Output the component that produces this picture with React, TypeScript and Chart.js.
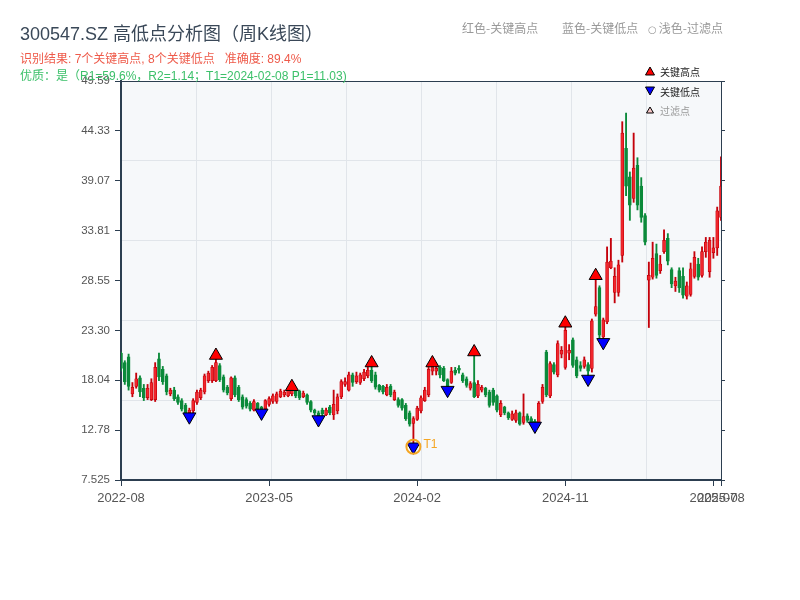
import React, { useEffect, useRef } from "react";
import { Chart, registerables } from "chart.js";

Chart.register(...registerables);

// ---------- data (weekly candles, index 0..158) ----------
const opens = [
  20.9, 19.9, 20.5, 16.6, 17.4, 18.3, 17.2, 16.2, 16.0, 16.0,
  20.3, 19.2, 18.5, 16.6, 17.0, 16.3, 15.9, 15.4, 14.6, 14.8,
  15.7, 16.2, 16.8, 18.0, 18.0, 18.0, 19.6, 18.4, 17.3, 16.1,
  18.3, 17.3, 16.3, 16.0, 15.6, 14.9, 15.6, 15.2, 15.0, 15.5,
  15.8, 15.8, 16.3, 16.5, 16.4, 16.6, 17.0, 16.9, 16.3, 16.5,
  15.8, 14.9, 14.6, 14.9, 14.4, 15.2, 14.4, 14.8, 16.3, 17.6,
  17.0, 18.6, 17.9, 17.8, 18.2, 18.5, 19.1, 18.6, 17.5, 17.4,
  16.5, 17.4, 16.0, 16.0, 16.0, 15.4, 14.6, 13.5, 13.9, 14.8,
  15.9, 16.5, 19.0, 19.0, 19.4, 19.3, 18.1, 17.8, 19.1, 19.3,
  18.6, 18.2, 17.2, 17.8, 16.4, 17.0, 17.2, 16.8, 17.0, 16.4,
  14.4, 15.2, 14.6, 13.9, 13.8, 14.6, 13.6, 14.3, 14.0, 13.7,
  13.6, 15.8, 21.0, 16.4, 19.7, 18.6, 20.8, 19.4, 20.9, 22.3,
  20.2, 19.6, 19.5, 19.7, 19.3, 25.0, 27.8, 22.6, 24.2, 29.9,
  27.3, 27.3, 31.2, 42.5, 39.5, 37.2, 40.7, 38.5, 35.4, 28.6,
  28.9, 31.4, 29.6, 31.6, 33.0, 29.7, 28.0, 29.6, 29.0, 26.9,
  27.1, 29.0, 30.3, 29.1, 31.6, 29.5, 31.5, 32.0, 35.2,
];
const highs = [
  21.0, 20.1, 20.8, 17.8, 18.8, 18.5, 17.6, 17.6, 18.2, 19.9,
  20.9, 19.5, 18.7, 17.2, 17.3, 16.5, 16.1, 15.6, 15.1, 16.1,
  17.0, 17.2, 18.7, 19.0, 19.6, 20.65, 19.8, 18.6, 17.5, 18.4,
  18.5, 17.5, 16.5, 16.2, 15.8, 16.0, 15.7, 15.3, 16.0, 16.3,
  16.6, 16.8, 17.1, 17.0, 17.2, 17.36, 17.2, 17.0, 16.9, 16.6,
  15.9, 15.0, 14.8, 15.1, 15.1, 15.4, 17.0, 16.6, 18.1, 18.3,
  18.9, 18.8, 18.9, 18.8, 19.2, 19.4, 19.86, 18.9, 17.6, 17.5,
  17.6, 17.6, 17.0, 16.2, 16.1, 15.6, 14.8, 14.2, 15.3, 16.4,
  17.3, 19.4, 19.86, 19.6, 19.6, 19.5, 18.2, 19.4, 19.4, 19.6,
  18.8, 18.4, 17.9, 21.02, 18.0, 17.5, 17.3, 17.0, 17.2, 16.5,
  15.9, 15.3, 14.7, 14.8, 14.9, 14.7, 16.6, 14.5, 14.2, 13.9,
  15.8, 17.6, 21.2, 20.0, 19.9, 22.2, 21.6, 24.05, 21.8, 22.5,
  20.5, 20.0, 20.5, 19.9, 24.5, 29.06, 28.0, 24.6, 32.1, 33.0,
  29.9, 30.7, 45.3, 46.2, 40.0, 44.1, 41.5, 39.4, 35.6, 30.5,
  32.6, 32.4, 31.2, 33.9, 33.5, 29.9, 28.9, 29.9, 29.9, 28.4,
  30.4, 31.6, 30.9, 32.1, 33.1, 33.1, 33.1, 36.3, 41.6,
];
const lows = [
  19.0, 17.6, 17.0, 16.3, 17.2, 16.3, 15.9, 16.0, 15.9, 15.8,
  18.0, 17.6, 16.5, 16.4, 15.9, 15.5, 14.8, 14.5, 14.2, 14.6,
  15.5, 16.0, 16.6, 17.8, 17.8, 17.9, 17.9, 16.8, 16.5, 15.9,
  16.3, 15.8, 15.0, 15.1, 14.8, 14.8, 14.8, 14.6, 14.8, 15.3,
  15.6, 15.6, 16.2, 16.3, 16.3, 16.4, 16.2, 16.0, 16.2, 15.5,
  14.7, 14.4, 13.9, 14.3, 14.3, 14.4, 13.9, 14.5, 16.1, 17.4,
  16.9, 17.4, 17.7, 17.6, 18.0, 18.3, 17.8, 17.1, 16.8, 16.6,
  16.4, 16.3, 15.9, 15.2, 14.9, 13.8, 13.2, 11.03, 13.8, 14.6,
  15.8, 16.3, 18.6, 18.6, 18.3, 17.9, 17.0, 17.7, 18.6, 18.8,
  17.8, 17.3, 17.0, 16.2, 16.2, 16.8, 16.3, 15.2, 15.4, 14.7,
  14.2, 14.4, 13.9, 13.8, 13.6, 13.3, 13.4, 13.6, 13.3, 13.22,
  13.5, 15.6, 16.3, 16.2, 18.7, 18.4, 20.4, 19.2, 20.2, 19.4,
  18.3, 19.0, 19.3, 18.17, 18.9, 24.8, 22.4, 22.04, 24.0, 29.8,
  26.2, 26.9, 30.5, 37.5, 34.9, 36.8, 36.0, 34.7, 32.3, 23.6,
  28.7, 28.8, 29.3, 31.4, 30.2, 27.8, 27.4, 27.3, 26.7, 26.6,
  26.9, 28.8, 28.6, 28.9, 31.0, 28.9, 30.9, 31.2, 34.9,
];
const closes = [
  19.3, 17.9, 17.4, 17.3, 18.2, 16.8, 16.2, 17.2, 17.8, 19.4,
  18.4, 17.9, 16.8, 17.0, 16.1, 15.7, 15.0, 14.6, 14.9, 15.9,
  16.8, 17.0, 18.5, 18.8, 19.4, 19.9, 18.1, 17.0, 16.7, 18.3,
  16.5, 16.0, 15.2, 15.3, 15.0, 15.8, 15.0, 14.8, 15.9, 16.1,
  16.4, 16.6, 16.9, 16.8, 17.0, 17.1, 16.4, 16.2, 16.7, 15.7,
  14.9, 14.6, 14.2, 14.5, 14.9, 14.6, 15.5, 16.3, 17.9, 17.9,
  18.6, 17.8, 18.5, 18.6, 18.9, 19.1, 18.0, 17.3, 17.0, 16.8,
  17.3, 16.5, 16.8, 15.4, 15.1, 14.0, 13.4, 14.0, 15.1, 16.2,
  17.0, 19.2, 19.5, 19.3, 18.6, 18.0, 17.4, 19.0, 18.8, 19.1,
  18.0, 17.5, 17.7, 16.3, 17.6, 17.3, 16.5, 15.4, 15.7, 14.9,
  15.6, 14.6, 14.1, 14.5, 14.6, 13.4, 14.2, 13.8, 13.5, 13.4,
  15.6, 17.3, 16.5, 19.8, 18.9, 21.9, 21.2, 23.3, 21.2, 19.6,
  18.5, 19.3, 20.2, 19.0, 24.3, 25.8, 22.8, 24.4, 30.5, 30.6,
  29.0, 30.2, 44.1, 38.5, 36.5, 40.4, 36.5, 35.2, 32.6, 29.1,
  30.9, 29.1, 30.3, 32.8, 30.6, 28.2, 28.5, 27.8, 27.0, 28.0,
  29.8, 31.0, 28.9, 31.6, 32.6, 32.8, 32.0, 35.9, 38.5,
];

const keyHighIdx = [25, 45, 66, 82, 93, 117, 125];
const keyLowIdx = [18, 37, 52, 77, 86, 109, 123, 127];
const t1Idx = 77;

const xTickIdx = [0, 39, 78, 117, 156, 158];
const xTickText = ["2022-08", "2023-05", "2024-02", "2024-11", "2025-07", "2025-08"];
const yTickValues = [7.525, 12.78, 18.04, 23.3, 28.55, 33.81, 39.07, 44.33, 49.59];
const yTickText = ["7.525", "12.78", "18.04", "23.30", "28.55", "33.81", "39.07", "44.33", "49.59"];

// ---------- styles ----------
const FONT = "'Liberation Sans', 'Noto Sans CJK SC', sans-serif";
const CJK_FONT = "'Noto Sans CJK SC', 'Liberation Sans', sans-serif";
const UP_FILL = "#f0262c";
const UP_EDGE = "#c4000a";
const DOWN_FILL = "#0b8a3a";
const AXIS = "#2c3e50";
const GRID = "#e1e5ea";

function drawTri(
  ctx: CanvasRenderingContext2D,
  cx: number,
  cy: number,
  w: number,
  h: number,
  up: boolean,
  fill: string
) {
  ctx.beginPath();
  if (up) {
    ctx.moveTo(cx, cy - h / 2);
    ctx.lineTo(cx + w / 2, cy + h / 2);
    ctx.lineTo(cx - w / 2, cy + h / 2);
  } else {
    ctx.moveTo(cx, cy + h / 2);
    ctx.lineTo(cx + w / 2, cy - h / 2);
    ctx.lineTo(cx - w / 2, cy - h / 2);
  }
  ctx.closePath();
  ctx.fillStyle = fill;
  ctx.fill();
  ctx.strokeStyle = "#000";
  ctx.lineWidth = 1;
  ctx.stroke();
}

const decorPlugin = {
  id: "decor",
  beforeDraw(chart: any) {
    const { ctx, chartArea: a } = chart;
    ctx.save();
    ctx.fillStyle = "#f6f8fa";
    ctx.fillRect(a.left, a.top, a.right - a.left, a.bottom - a.top);
    ctx.restore();
  },
  afterDraw(chart: any) {
    const { ctx, chartArea: a, scales } = chart;
    ctx.save();
    // top frame line
    ctx.strokeStyle = AXIS;
    ctx.lineWidth = 1;
    ctx.beginPath();
    ctx.moveTo(a.left, a.top + 0.5);
    ctx.lineTo(a.right, a.top + 0.5);
    ctx.stroke();

    // T1 label
    const tx = scales.x.getPixelForValue(t1Idx);
    const ty = scales.y.getPixelForValue(lows[t1Idx]);
    ctx.fillStyle = "#f5a623";
    ctx.font = `12px ${FONT}`;
    ctx.textBaseline = "middle";
    ctx.textAlign = "left";
    ctx.fillText("T1", tx + 10, ty - 2);

    // legend
    const lx = a.right - 71;
    const items = [
      { y: a.top - 10, up: true, fill: "#ff0000", text: "关键高点", color: "#222", w: 9, h: 8 },
      { y: a.top + 10, up: false, fill: "#0000ff", text: "关键低点", color: "#222", w: 9, h: 8 },
      { y: a.top + 29, up: true, fill: "#f8c8c8", text: "过滤点", color: "#999", w: 7, h: 6 },
    ];
    ctx.font = `10px ${CJK_FONT}`;
    for (const it of items) {
      drawTri(ctx, lx, it.y, it.w, it.h, it.up, it.fill);
      ctx.fillStyle = it.color;
      ctx.fillText(it.text, lx + 10, it.y + 1);
    }
    ctx.restore();
  },
};

export default function App() {
  const canvasRef = useRef<HTMLCanvasElement | null>(null);

  useEffect(() => {
    if (!canvasRef.current) return;
    Chart.defaults.font.family = FONT;
    const isUp = closes.map((c, i) => c >= opens[i]);
    const fillCols = isUp.map((u) => (u ? UP_FILL : DOWN_FILL));
    const edgeCols = isUp.map((u) => (u ? UP_EDGE : DOWN_FILL));

    const chart = new Chart(canvasRef.current, {
      type: "bar",
      data: {
        datasets: [
          {
            type: "bar",
            label: "wick",
            data: lows.map((l, i) => ({ x: i, y: [l, highs[i]] })) as any,
            backgroundColor: edgeCols,
            borderWidth: 0,
            barThickness: 1.2,
            grouped: false,
            order: 5,
            xAxisID: "x",
            yAxisID: "y",
          } as any,
          {
            type: "bar",
            label: "body",
            data: opens.map((o, i) => ({ x: i, y: [o, closes[i]] })) as any,
            backgroundColor: fillCols,
            borderColor: edgeCols,
            borderWidth: 0.7,
            borderSkipped: false,
            barThickness: 3,
            minBarLength: 1,
            grouped: false,
            order: 4,
            xAxisID: "x",
            yAxisID: "y",
          } as any,
          {
            type: "line",
            label: "关键高点",
            data: keyHighIdx.map((i) => ({ x: i, y: highs[i] })),
            showLine: false,
            pointStyle: "triangle",
            pointRadius: 7.5,
            pointBackgroundColor: "#ff0000",
            pointBorderColor: "#000",
            pointBorderWidth: 1,
            order: 2,
            xAxisID: "x",
            yAxisID: "y",
          } as any,
          {
            type: "line",
            label: "关键低点",
            data: keyLowIdx.map((i) => ({ x: i, y: lows[i] })),
            showLine: false,
            pointStyle: "triangle",
            rotation: 180,
            pointRotation: 180,
            pointRadius: 7.5,
            pointBackgroundColor: "#0000ff",
            pointBorderColor: "#000",
            pointBorderWidth: 1,
            order: 2,
            xAxisID: "x",
            yAxisID: "y",
          } as any,
          {
            type: "line",
            label: "T1",
            data: [{ x: t1Idx, y: lows[t1Idx] }],
            showLine: false,
            pointStyle: "circle",
            pointRadius: 7,
            pointBackgroundColor: "rgba(0,0,0,0)",
            pointBorderColor: "#f5a623",
            pointBorderWidth: 2,
            order: 1,
            xAxisID: "x",
            yAxisID: "y",
          } as any,
        ],
      },
      options: {
        animation: false,
        responsive: true,
        maintainAspectRatio: false,
        layout: { padding: { left: 0, top: 81, right: 79, bottom: 0 } },
        plugins: { legend: { display: false }, tooltip: { enabled: false } },
        scales: {
          x: {
            type: "linear",
            min: 0,
            max: 158,
            offset: false,
            position: "bottom",
            afterBuildTicks: (s: any) => {
              s.ticks = xTickIdx.map((v) => ({ value: v }));
            },
            afterFit: (s: any) => {
              s.height = 120;
            },
            ticks: {
              autoSkip: false,
              maxRotation: 0,
              color: "#555",
              font: { size: 13 },
              padding: 5,
              callback: (v: any) => {
                const k = xTickIdx.indexOf(Number(v));
                return k >= 0 ? xTickText[k] : "";
              },
            },
            grid: { drawOnChartArea: false, offset: false, tickLength: 6, color: AXIS },
            border: { color: AXIS, width: 2 },
          },
          xGrid: {
            type: "linear",
            min: 0,
            max: 8,
            offset: false,
            position: "bottom",
            afterFit: (s: any) => {
              s.height = 0;
            },
            ticks: { display: false, stepSize: 1 },
            grid: { color: GRID, drawTicks: false, offset: false },
            border: { display: false },
          },
          y: {
            type: "linear",
            min: 7.525,
            max: 49.59,
            position: "left",
            afterBuildTicks: (s: any) => {
              s.ticks = yTickValues.map((v) => ({ value: v }));
            },
            afterFit: (s: any) => {
              s.width = 121;
            },
            ticks: {
              color: "#555",
              font: { size: 11.5 },
              padding: 5,
              callback: (v: any) => {
                const k = yTickValues.indexOf(Number(v));
                return k >= 0 ? yTickText[k] : "";
              },
            },
            grid: { drawOnChartArea: false, tickLength: 6, color: AXIS },
            border: { color: AXIS, width: 2 },
          },
          yRight: {
            type: "linear",
            min: 7.525,
            max: 49.59,
            position: "right",
            afterBuildTicks: (s: any) => {
              s.ticks = yTickValues.map((v) => ({ value: v }));
            },
            afterFit: (s: any) => {
              s.width = 0;
            },
            ticks: { display: false },
            grid: { drawOnChartArea: false, tickLength: 4, color: AXIS },
            border: { color: AXIS, width: 1 },
          },
          yGrid: {
            type: "linear",
            min: 0,
            max: 5,
            position: "left",
            afterFit: (s: any) => {
              s.width = 0;
            },
            ticks: { display: false, stepSize: 1 },
            grid: { color: GRID, drawTicks: false },
            border: { display: false },
          },
        },
      } as any,
      plugins: [decorPlugin],
    });
    return () => chart.destroy();
  }, []);

  const txt = (extra: React.CSSProperties): React.CSSProperties => ({
    position: "absolute",
    whiteSpace: "nowrap",
    fontFamily: FONT,
    ...extra,
  });

  return (
    <div
      style={{
        position: "absolute",
        left: 0,
        top: 0,
        width: 800,
        height: 600,
        background: "#fff",
        overflow: "hidden",
      }}
    >
      <canvas ref={canvasRef} style={{ position: "absolute", left: 0, top: 0 }} />
      <div style={txt({ left: 20, top: 25, fontSize: 18, lineHeight: "18px", color: "#3a4858" })}>
        300547.SZ 高低点分析图（周K线图）
      </div>
      <div style={txt({ left: 20, top: 53, fontSize: 12, lineHeight: "12px", color: "#ee5a4a" })}>
        识别结果: 7个关键高点, 8个关键低点&nbsp;&nbsp;&nbsp;准确度: 89.4%
      </div>
      <div style={txt({ left: 20, top: 70, fontSize: 12, lineHeight: "12px", color: "#3cc06a" })}>
        优质：是（R1=59.6%，R2=1.14；T1=2024-02-08 P1=11.03)
      </div>
      <div style={txt({ left: 462, top: 22, fontSize: 12, lineHeight: "12px", color: "#999", fontFamily: CJK_FONT })}>
        红色-关键高点
      </div>
      <div style={txt({ left: 562, top: 22, fontSize: 12, lineHeight: "12px", color: "#999", fontFamily: CJK_FONT })}>
        蓝色-关键低点
      </div>
      <div style={txt({ left: 648, top: 22, fontSize: 12, lineHeight: "12px", color: "#999", fontFamily: CJK_FONT })}>
        <span style={{ fontFamily: "'DejaVu Sans', sans-serif", fontSize: 10, marginRight: 2 }}>○</span>
        浅色-过滤点
      </div>
    </div>
  );
}
